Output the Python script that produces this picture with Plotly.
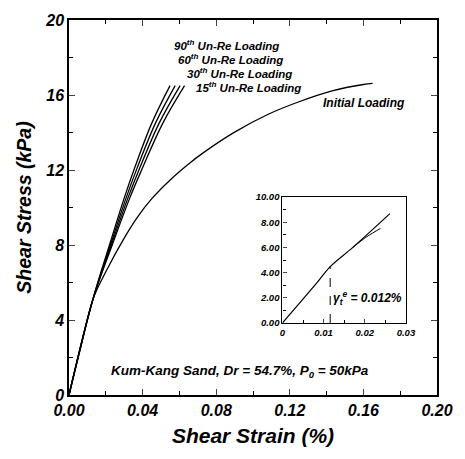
import plotly.graph_objects as go

# Initial loading curve
init_x = [0.0, 0.007, 0.013, 0.020, 0.030, 0.0375, 0.045, 0.055, 0.065, 0.0727, 0.090, 0.108, 0.125, 0.143, 0.160, 0.165]
init_y = [0.0, 2.8, 5.1, 6.57, 8.37, 9.53, 10.47, 11.47, 12.32, 12.9, 14.02, 14.96, 15.64, 16.22, 16.56, 16.62]

# Unload-reload curves
ur90_x = [0.0, 0.013, 0.0220, 0.0300, 0.0360, 0.0450, 0.0549]
ur90_y = [0.0, 5.1, 8.0, 10.5, 12.2, 14.5, 16.5]
ur60_x = [0.0, 0.013, 0.0225, 0.0310, 0.0370, 0.0470, 0.0577]
ur60_y = [0.0, 5.1, 8.0, 10.5, 12.1, 14.5, 16.5]
ur30_x = [0.0, 0.013, 0.0230, 0.0320, 0.0380, 0.0490, 0.0604]
ur30_y = [0.0, 5.1, 8.0, 10.5, 12.0, 14.5, 16.5]
ur15_x = [0.0, 0.013, 0.0235, 0.0330, 0.0390, 0.0510, 0.0628]
ur15_y = [0.0, 5.1, 8.0, 10.5, 11.9, 14.5, 16.5]

# Inset curves
ins_x = [0.0, 0.0084, 0.0116, 0.0171, 0.0261]
ins_y = [0.0, 3.2, 4.47, 6.0, 8.68]
ins_b_x = [0.0171, 0.0205, 0.0238]
ins_b_y = [6.0, 6.85, 7.5]
gamma_x = [0.0116, 0.0116]
gamma_y = [0.0, 4.5]

main_xticks = [0.0, 0.04, 0.08, 0.12, 0.16, 0.20]
main_yticks = [0, 4, 8, 12, 16, 20]
ins_xticks = [0, 0.01, 0.02, 0.03]
ins_xticklabels = ["0", "0.01", "0.02", "0.03"]
ins_yticks = [0, 2, 4, 6, 8, 10]

FONT = "Liberation Sans"

fig = go.Figure()
for xs, ys in [(init_x, init_y), (ur90_x, ur90_y), (ur60_x, ur60_y), (ur30_x, ur30_y), (ur15_x, ur15_y)]:
    fig.add_trace(go.Scatter(x=xs, y=ys, mode="lines",
                             line=dict(color="black", width=1.3, shape="spline", smoothing=1.0),
                             xaxis="x", yaxis="y", showlegend=False))
fig.add_trace(go.Scatter(x=ins_x, y=ins_y, mode="lines", line=dict(color="black", width=1.2, shape="spline"),
                         xaxis="x2", yaxis="y2", showlegend=False))
fig.add_trace(go.Scatter(x=ins_b_x, y=ins_b_y, mode="lines", line=dict(color="black", width=1.0, shape="spline"),
                         xaxis="x2", yaxis="y2", showlegend=False))
fig.add_trace(go.Scatter(x=gamma_x, y=gamma_y, mode="lines", line=dict(color="black", width=1.0, dash="dash"),
                         xaxis="x2", yaxis="y2", showlegend=False))

tickfont = dict(family=FONT, size=16, color="black", weight="bold", style="italic")
xtitlefont = dict(family=FONT, size=21, color="black", weight="bold", style="italic")
ytitlefont = dict(family=FONT, size=19.5, color="black", weight="bold", style="italic")
small = dict(family=FONT, size=9.5, color="black", weight="bold", style="italic")

fig.update_layout(
    width=465, height=459,
    margin=dict(l=69, r=17, t=20, b=64),
    paper_bgcolor="white", plot_bgcolor="white",
    xaxis=dict(range=[0, 0.2], tickvals=main_xticks, tickformat=".2f", ticks="inside", ticklen=6,
               minor=dict(ticks="inside", dtick=0.02, ticklen=4, tickcolor="black"),
               showline=True, linecolor="black", linewidth=1.5, mirror="ticks", showgrid=False, zeroline=False,
               tickfont=tickfont, title=dict(text="Shear Strain (%)", font=xtitlefont, standoff=10)),
    yaxis=dict(range=[0, 20], tickvals=main_yticks, ticks="inside", ticklen=6,
               minor=dict(ticks="inside", dtick=2, ticklen=4, tickcolor="black"),
               showline=True, linecolor="black", linewidth=1.5, mirror="ticks", showgrid=False, zeroline=False,
               tickfont=tickfont, title=dict(text="Shear Stress (kPa)", font=ytitlefont, standoff=8)),
    xaxis2=dict(domain=[0.580, 0.9156], anchor="y2", range=[0, 0.03], tickvals=ins_xticks, ticktext=ins_xticklabels,
                ticks="inside", ticklen=4, minor=dict(ticks="inside", dtick=0.005, ticklen=3, tickcolor="black"),
                showline=True, linecolor="black", linewidth=1.2, mirror=True, showgrid=False, zeroline=False,
                tickfont=small),
    yaxis2=dict(domain=[0.192, 0.528], anchor="x2", range=[0, 10], tickvals=ins_yticks, tickformat=".2f",
                ticks="inside", ticklen=4, minor=dict(ticks="inside", dtick=1, ticklen=3, tickcolor="black"),
                showline=True, linecolor="black", linewidth=1.2, mirror=True, showgrid=False, zeroline=False,
                tickfont=small),
)

ann_font = dict(family=FONT, size=12, color="black", weight="bold", style="italic")
annots = [
    (0.056, 18.67, "90<sup>th</sup> Un-Re Loading", 11.5),
    (0.058, 17.92, "60<sup>th</sup> Un-Re Loading", 11.5),
    (0.0633, 17.2, "30<sup>th</sup> Un-Re Loading", 11.5),
    (0.068, 16.45, "15<sup>th</sup> Un-Re Loading", 11.5),
    (0.137, 15.6, "Initial Loading", 12),
    (0.0216, 1.23, "Kum-Kang Sand, Dr = 54.7%, P<sub>0</sub> = 50kPa", 13.5),
]
for x, y, t, s in annots:
    fig.add_annotation(x=x, y=y, xref="x", yref="y", text=t, showarrow=False, xanchor="left",
                       yanchor="middle", font=dict(ann_font, size=s))
fig.add_annotation(x=0.0118, y=2.0, xref="x2", yref="y2", text="γ<sub>t</sub><sup>e</sup> = 0.012%",
                   showarrow=False, xanchor="left", yanchor="middle",
                   font=dict(family=FONT, size=12, color="black", weight="bold", style="italic"))

fig.write_html("out.html")
